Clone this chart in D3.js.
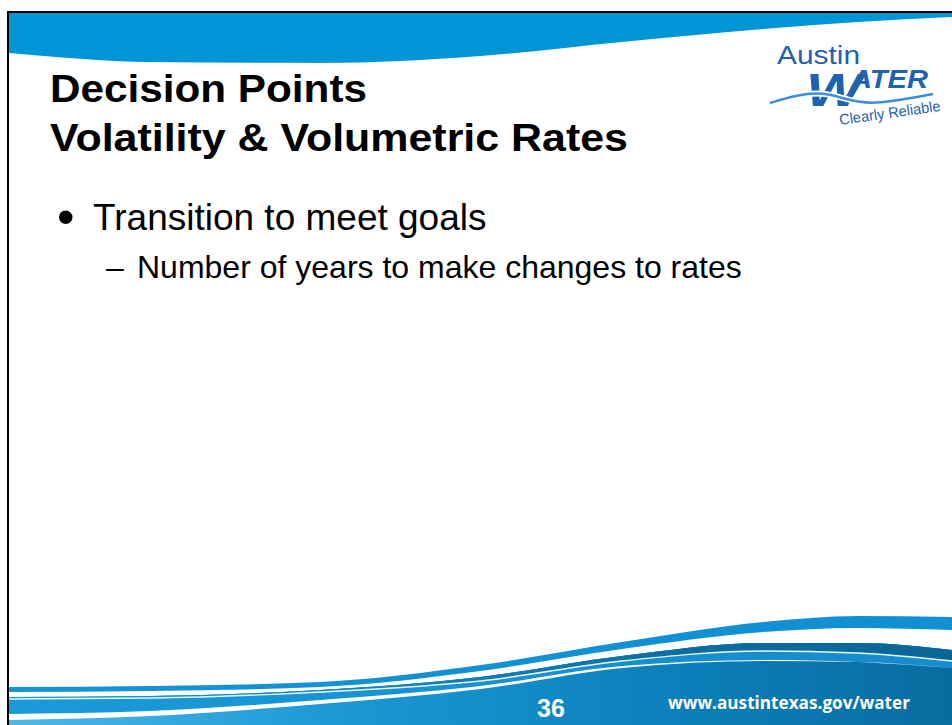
<!DOCTYPE html>
<html>
<head>
<meta charset="utf-8">
<script src="https://cdn.jsdelivr.net/npm/d3@7"></script>
<style>
body { margin: 0; background: #fff; overflow: hidden; }
text { font-family: Arial, "Liberation Sans", sans-serif; }
</style>
</head>
<body>
<svg id="slide"></svg>
<script>
// slide text
var titleLines = ["Decision Points", "Volatility & Volumetric Rates"];
var bulletLevels = [1, 2];
var bulletTexts = ["Transition to meet goals", "Number of years to make changes to rates"];
var pageNumber = "36";
var footerUrl = "www.austintexas.gov/water";
var logoTop = "Austin";
var logoWord = "ATER";
var logoTag = "Clearly Reliable";

// wave outlines (x as share of slide width, y in px)
var waveX     = [0, 0.15, 0.33, 0.5, 0.65, 0.8, 0.9, 1];
var bannerY   = [53, 62, 63, 56, 42, 29, 22, 17];
var band1Top  = [687, 686, 682, 665, 642, 622, 616, 617];
var band1Bot  = [692, 691, 687, 671, 649, 632, 628, 630];
var mainTop   = [697, 696, 690, 677, 656, 643, 643, 650];
var innerLine = [699, 698, 692, 681, 661, 651, 653, 661];
var stripeTop = [714, 711, 700, 686, 666, 660, 662, 668];
var stripeBot = [720, 716, 704, 689, 668, 661, 662, 668];
var logoWave  = [[770,103],[797,95],[823,92],[848,100],[870,104],[900,100],[933,94]];

var W = 952, H = 725;
var svg = d3.select("#slide").attr("width", W).attr("height", H);
var x = d3.scaleLinear().domain([0, 1]).range([9, W]);
var defs = svg.append("defs");

function grad(id, stops) {
	var g = defs.append("linearGradient").attr("id", id)
		.attr("x1", "0").attr("y1", "0").attr("x2", "1").attr("y2", "0");
	stops.forEach(function(s) {
		g.append("stop").attr("offset", s[0]).attr("stop-color", s[1]);
	});
}
grad("gBottom", [[0, "#4cb8e8"], [0.35, "#1c98d4"], [0.7, "#0b80bb"], [1, "#096c9f"]]);
grad("gMain", [[0, "#1a9ad8"], [0.6, "#1690d0"], [1, "#168ccc"]]);
grad("gDark", [[0, "#1a98d6"], [0.45, "#137fb8"], [0.75, "#0b6c9e"], [1, "#0a6697"]]);
grad("gBand", [[0, "#1494d4"], [1, "#1090d2"]]);

function edge(ys) { return ys.map(function(y, i) { return [waveX[i], y]; }); }
function between(a, b) {
	return d3.area().curve(d3.curveMonotoneX)
		.x(function(d) { return x(d[0]); })
		.y0(function(d, i) { return a[i]; })
		.y1(function(d, i) { return b[i]; })(edge(a));
}
var line = d3.line().curve(d3.curveMonotoneX)
	.x(function(d) { return x(d[0]); }).y(function(d) { return d[1]; });

// top banner
var bottomOf = waveX.map(function() { return 13; });
svg.append("path").attr("d", between(bottomOf, bannerY)).attr("fill", "#0096d6");

// bottom waves
var floor = waveX.map(function() { return H + 2; });
svg.append("path").attr("d", between(band1Top, band1Bot)).attr("fill", "url(#gBand)");
svg.append("path").attr("d", between(mainTop, floor)).attr("fill", "url(#gBottom)");
svg.append("path").attr("d", between(mainTop, stripeTop)).attr("fill", "url(#gMain)");
svg.append("path").attr("d", between(mainTop, innerLine)).attr("fill", "url(#gDark)");
svg.append("path").attr("d", line(edge(innerLine))).attr("fill", "none")
	.attr("stroke", "#e8f6fd").attr("stroke-width", 1.4);
svg.append("path").attr("d", between(stripeTop, stripeBot)).attr("fill", "#ffffff");

// frame
svg.append("rect").attr("x", 8).attr("y", 12).attr("width", W + 10).attr("height", H + 10)
	.attr("fill", "none").attr("stroke", "#000").attr("stroke-width", 2);

// title
svg.selectAll(".title").data(titleLines).enter().append("text")
	.attr("class", "title")
	.attr("x", 50)
	.attr("y", function(d, i) { return 102 + i * 49; })
	.attr("font-size", "38px").attr("font-weight", "bold").attr("fill", "#000")
	.attr("textLength", function(d, i) { return i == 0 ? 317 : 578; })
	.attr("lengthAdjust", "spacingAndGlyphs")
	.text(function(d) { return d; });

// bullets
var bx = {1: 93, 2: 137}, by = {1: 230, 2: 278}, bs = {1: 37, 2: 32};
bulletTexts.forEach(function(t, i) {
	var lv = bulletLevels[i];
	svg.append("text").attr("x", lv == 1 ? 57 : 106).attr("y", lv == 1 ? 234 : by[lv])
		.attr("font-size", (lv == 1 ? 50 : bs[lv]) + "px").attr("fill", "#000")
		.text(lv == 1 ? "\u2022" : "\u2013");
	svg.append("text").attr("x", bx[lv]).attr("y", by[lv])
		.attr("font-size", bs[lv] + "px").attr("fill", "#000")
		.text(t);
});

// logo
var logoBlue = "#1f62b0";
svg.append("text").attr("x", 777).attr("y", 64).attr("font-size", "26px")
	.attr("fill", logoBlue).attr("textLength", 83).attr("lengthAdjust", "spacingAndGlyphs")
	.text(logoTop);
svg.append("text").attr("x", 806).attr("y", 106).attr("font-size", "46px")
	.attr("font-weight", "bold").attr("font-style", "italic").attr("fill", logoBlue)
	.attr("textLength", 56).attr("lengthAdjust", "spacingAndGlyphs").text("W");
svg.append("text").attr("x", 851).attr("y", 88).attr("font-size", "25px")
	.attr("font-weight", "bold").attr("font-style", "italic").attr("fill", logoBlue)
	.attr("textLength", 77).attr("lengthAdjust", "spacingAndGlyphs").text(logoWord);
var wl = d3.line().curve(d3.curveBasis);
svg.append("path").attr("d", wl(logoWave)).attr("fill", "none")
	.attr("stroke", "#fff").attr("stroke-width", 6);
svg.append("path").attr("d", wl(logoWave)).attr("fill", "none")
	.attr("stroke", "#3a8fdc").attr("stroke-width", 2.5);
svg.append("text").attr("transform", "translate(840,125) rotate(-8)")
	.attr("font-size", "15px").attr("fill", logoBlue)
	.attr("textLength", 102).attr("lengthAdjust", "spacingAndGlyphs")
	.text(logoTag);

// footer
svg.append("text").attr("x", 551).attr("y", 717).attr("text-anchor", "middle")
	.attr("font-size", "25px").attr("font-weight", "bold").attr("fill", "#fff")
	.text(pageNumber);
svg.append("text").attr("x", 668).attr("y", 709)
	.style("font-family", "'Open Sans', sans-serif")
	.attr("font-size", "18px").attr("font-weight", "bold").attr("fill", "#fff")
	.attr("textLength", 242).attr("lengthAdjust", "spacingAndGlyphs")
	.text(footerUrl);
</script>
</body>
</html>
